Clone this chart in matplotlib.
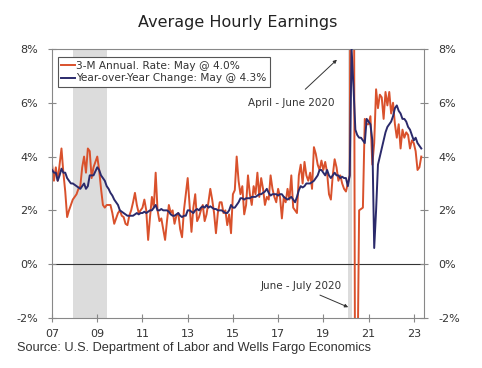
import matplotlib
matplotlib.use("Agg")
from matplotlib import pyplot as plt
import numpy as np

# monthly data, Jan 2007 - May 2023
three_month = [
    3.7, 3.1, 3.6, 3.1, 3.7, 4.3, 3.4, 2.7, 1.75, 2.0, 2.2, 2.4,      # 2007
    2.5, 2.6, 2.8, 2.9, 3.6, 4.0, 3.4, 4.3, 4.2, 3.2, 3.6, 3.8,       # 2008
    4.0, 3.5, 2.8, 2.2, 2.1, 2.2, 2.2, 2.2, 1.9, 1.5, 1.7, 1.9,       # 2009
    2.0, 1.8, 1.75, 1.5, 1.45, 1.8, 2.0, 2.3, 2.65, 2.2, 1.9, 2.0,    # 2010
    2.1, 2.4, 2.0, 0.9, 1.75, 2.5, 2.1, 3.4, 2.0, 1.6, 1.7, 1.3,      # 2011
    0.9, 1.6, 2.2, 1.9, 2.0, 1.5, 1.8, 1.9, 1.3, 1.0, 2.0, 2.6,       # 2012
    3.2, 2.2, 1.2, 2.1, 2.6, 1.6, 1.75, 2.0, 2.2, 1.6, 1.85, 2.3,     # 2013
    2.8, 2.4, 1.9, 1.15, 1.9, 2.3, 2.3, 1.9, 2.0, 1.45, 1.85, 1.15,   # 2014
    2.6, 2.75, 4.0, 3.1, 2.6, 2.9, 1.85, 2.2, 3.3, 2.6, 2.2, 2.9,     # 2015
    2.6, 3.4, 2.5, 3.2, 2.8, 2.2, 2.5, 2.4, 3.3, 2.8, 2.5, 2.3,       # 2016
    2.8, 2.5, 1.7, 2.5, 2.3, 2.8, 2.4, 3.3, 2.1, 2.0, 1.9, 3.3,       # 2017
    3.7, 3.0, 3.8, 3.3, 3.1, 3.4, 2.8, 4.35, 4.1, 3.7, 3.5, 3.85,     # 2018
    3.5, 3.8, 3.4, 2.6, 2.4, 3.3, 3.9, 3.6, 3.1, 3.3, 3.0, 2.8,       # 2019
    2.7, 3.0, 3.3, 24.0, 18.0, -9.0, -5.0, 2.0, 2.05, 2.1, 5.4, 5.2,  # 2020
    5.2, 5.5, 3.7, 4.5, 6.5, 5.8, 6.3, 6.2, 5.4, 6.4, 5.9, 6.4,       # 2021
    5.6, 6.0, 5.2, 4.7, 5.2, 4.3, 5.0, 4.7, 4.9, 4.8, 4.3, 4.6,       # 2022
    4.5, 4.2, 3.5, 3.6, 4.0,                                          # 2023
]
year_over_year = [
    3.5, 3.4, 3.4, 3.1, 3.3, 3.55, 3.4, 3.4, 3.2, 3.1, 3.0, 3.0,      # 2007
    2.95, 2.9, 2.85, 2.8, 2.9, 3.0, 2.8, 2.9, 3.3, 3.3, 3.3, 3.45,    # 2008
    3.6, 3.5, 3.3, 3.2, 3.1, 2.9, 2.8, 2.65, 2.55, 2.4, 2.3, 2.2,     # 2009
    2.0, 1.95, 1.9, 1.85, 1.8, 1.8, 1.8, 1.8, 1.85, 1.9, 1.85, 1.9,   # 2010
    1.9, 1.95, 1.9, 1.95, 2.0, 2.0, 2.1, 2.2, 2.0, 2.0, 2.05, 2.0,    # 2011
    2.0, 2.0, 1.95, 1.85, 1.8, 1.8, 1.85, 1.9, 1.8, 1.75, 1.8, 1.8,   # 2012
    2.0, 2.0, 1.95, 1.9, 2.0, 2.05, 2.0, 2.1, 2.15, 2.1, 2.2, 2.1,    # 2013
    2.15, 2.1, 2.05, 2.05, 2.0, 2.0, 2.0, 1.95, 1.9, 1.9, 2.0, 2.2,   # 2014
    2.1, 2.1, 2.2, 2.3, 2.45, 2.45, 2.4, 2.45, 2.45, 2.45, 2.5, 2.5,  # 2015
    2.5, 2.55, 2.6, 2.6, 2.65, 2.7, 2.8, 2.65, 2.55, 2.6, 2.6, 2.6,   # 2016
    2.55, 2.6, 2.6, 2.5, 2.45, 2.4, 2.45, 2.5, 2.4, 2.3, 2.5, 2.75,   # 2017
    2.9, 2.85, 2.9, 3.0, 3.0, 3.0, 3.05, 3.1, 3.2, 3.3, 3.5, 3.5,     # 2018
    3.4, 3.3, 3.5, 3.3, 3.2, 3.3, 3.4, 3.3, 3.3, 3.2, 3.25, 3.2,      # 2019
    3.2, 2.9, 3.3, 8.0, 6.6, 5.0, 4.8, 4.7, 4.7, 4.6, 4.5, 5.4,       # 2020
    5.3, 5.2, 4.6, 0.6, 2.0, 3.7, 4.0, 4.3, 4.6, 4.9, 5.1, 5.2,       # 2021
    5.3, 5.5, 5.8, 5.9, 5.7, 5.6, 5.4, 5.4, 5.3, 5.1, 5.0, 4.8,       # 2022
    4.6, 4.7, 4.5, 4.4, 4.3,                                          # 2023
]
recessions = [(2007 + 11/12, 2009 + 5/12), (2020 + 1/12, 2020 + 3/12)]
year_ticks = [2007, 2009, 2011, 2013, 2015, 2017, 2019, 2021, 2023]
pct_ticks = [-2, 0, 2, 4, 6, 8]

dates = 2007 + np.arange(len(three_month)) / 12

fig = plt.figure(figsize=(4.82, 3.68), dpi=100)
ax = fig.add_axes([0.108, 0.136, 0.772, 0.731])

for start, end in recessions:
    ax.axvspan(start, end, color='#dcdcdc', lw=0, zorder=0)

ax.axhline(0, color='#333333', lw=0.8, zorder=1)
ax.plot(dates, three_month, color='#d9512c', lw=1.4, zorder=2,
        label='3-M Annual. Rate: May @ 4.0%')
ax.plot(dates, year_over_year, color='#2b2a6b', lw=1.4, zorder=3,
        label='Year-over-Year Change: May @ 4.3%')

ax.set_xlim(2007, 2023.46)
ax.set_ylim(-2, 8)
ax.set_xticks(year_ticks)
ax.set_xticklabels(['%02d' % (y % 100) for y in year_ticks])
ax.set_yticks(pct_ticks)
ax.set_yticklabels(['%d%%' % v for v in pct_ticks])
ax.tick_params(axis='both', direction='inout', length=6, width=0.8,
               color='#888888', labelcolor='#333333', labelsize=8)
ax.tick_params(axis='y', right=True, labelright=True, pad=7)
ax.tick_params(axis='x', pad=5)
for s in ax.spines.values():
    s.set_color('#888888')
    s.set_linewidth(0.8)

leg = ax.legend(loc='upper left', bbox_to_anchor=(0.015, 0.97),
                fontsize=7.6, handlelength=1.3, handletextpad=0.1,
                borderpad=0.35, labelspacing=0.25, fancybox=False,
                framealpha=1, borderaxespad=0)
leg.get_frame().set_edgecolor('#555555')
leg.get_frame().set_linewidth(0.8)
for t in leg.get_texts():
    t.set_color('#333333')

# annotations
ax.text(2017.6, 6.0, 'April - June 2020', fontsize=7.5, color='#333333',
        ha='center', va='center')
ax.annotate('', xy=(2019.6, 7.6), xytext=(2018.2, 6.5),
            arrowprops=dict(arrowstyle='-|>', color='#333333', lw=0.7,
                            mutation_scale=5, shrinkA=0, shrinkB=0))
ax.text(2018.0, -0.8, 'June - July 2020', fontsize=7.5, color='#333333',
        ha='center', va='center')
ax.annotate('', xy=(2020.1, -1.6), xytext=(2018.85, -1.15),
            arrowprops=dict(arrowstyle='-|>', color='#333333', lw=0.7,
                            mutation_scale=5, shrinkA=0, shrinkB=0))

fig.text(0.494, 0.94, 'Average Hourly Earnings', ha='center', va='center',
         fontsize=11.5, color='#222222')
fig.text(0.035, 0.055, 'Source: U.S. Department of Labor and Wells Fargo Economics',
         ha='left', va='center', fontsize=9.2, color='#333333',
         family='Liberation Sans')

fig.savefig('out.png', dpi=100)
